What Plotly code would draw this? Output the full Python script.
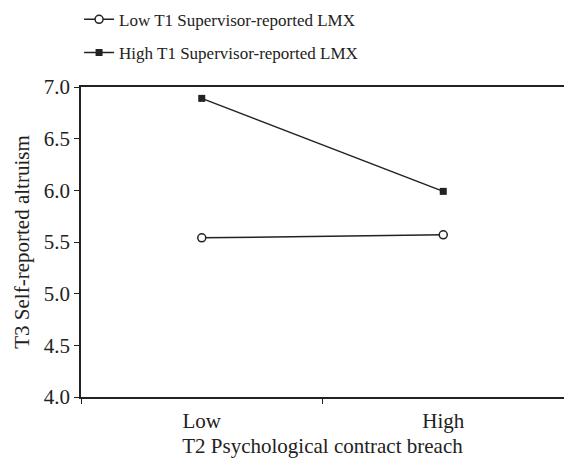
import plotly.graph_objects as go

categories = ["Low", "High"]
low_lmx = [5.54, 5.57]
high_lmx = [6.89, 5.99]
series_names = ["Low T1 Supervisor-reported LMX", "High T1 Supervisor-reported LMX"]
y_ticks = [4.0, 4.5, 5.0, 5.5, 6.0, 6.5, 7.0]

FONT = "Liberation Serif"
INK = "#222222"

fig = go.Figure()
fig.add_trace(go.Scatter(
    x=categories, y=low_lmx, name=series_names[0], mode="lines+markers",
    line=dict(color=INK, width=1.5), legendgroup="a",
    marker=dict(symbol="circle", size=8, color="white", line=dict(color=INK, width=1.5)),
))
fig.add_trace(go.Scatter(
    x=categories, y=high_lmx, name=series_names[1], mode="lines+markers",
    line=dict(color=INK, width=1.5), legendgroup="b",
    marker=dict(symbol="square", size=7, color=INK, line=dict(color=INK, width=0)),
))

fig.update_layout(
    width=564, height=460,
    margin=dict(l=81, r=0, t=87, b=63, autoexpand=False),
    paper_bgcolor="white", plot_bgcolor="white",
    font=dict(family=FONT, color=INK),
    showlegend=True,
    legend=dict(
        x=-0.004, y=1.275, xanchor="left", yanchor="top",
        font=dict(family=FONT, size=17, color=INK), itemwidth=30,
        traceorder="grouped", tracegroupgap=8,
        bgcolor="rgba(0,0,0,0)", borderwidth=0,
    ),
    xaxis=dict(
        type="category", categoryorder="array", categoryarray=categories,
        range=[-0.5, 1.5], tickson="boundaries", ticks="outside", ticklen=5,
        ticklabelstandoff=4,
        tickcolor=INK, showline=True, linecolor=INK, linewidth=1.5, mirror=True,
        showgrid=False, zeroline=False,
        tickfont=dict(family=FONT, size=21, color=INK),
        title=dict(text="T2 Psychological contract breach", font=dict(family=FONT, size=21, color=INK), standoff=6),
    ),
    yaxis=dict(
        range=[4, 7], tickvals=y_ticks, tickformat=".1f", ticks="outside", ticklen=5,
        tickcolor=INK, showline=True, linecolor=INK, linewidth=1.5,
        showgrid=False, zeroline=False,
        tickfont=dict(family=FONT, size=21, color=INK),
        title=dict(text="T3 Self-reported altruism", font=dict(family=FONT, size=21, color=INK), standoff=8),
    ),
)

fig.write_html("out.html")
